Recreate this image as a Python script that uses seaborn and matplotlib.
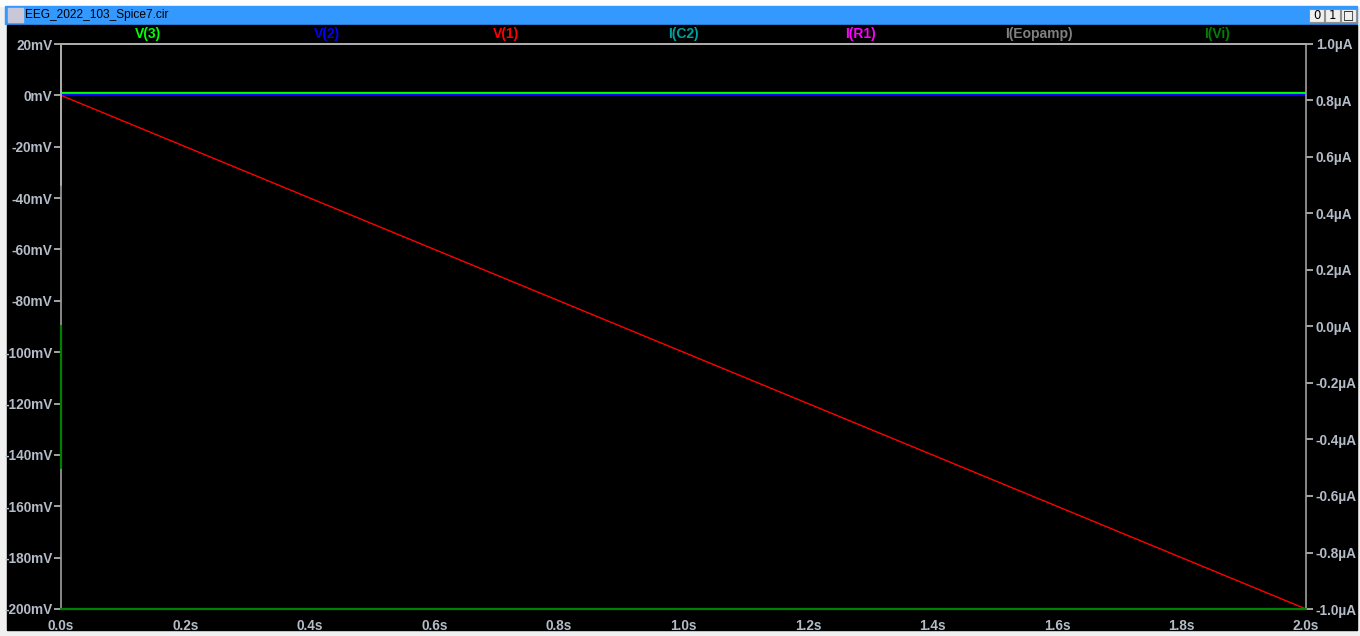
import numpy as np
import pandas as pd
import seaborn as sns
import matplotlib.pyplot as plt
from matplotlib.patches import Rectangle
from matplotlib.ticker import FuncFormatter, MultipleLocator

# 仿真数据
time_s = [0.0, 2.0]
v3_mv = [0.9, 0.9]
v2_mv = [0.0, 0.0]
v1_mv = [0.0, -200.0]
time_vi = [0.0, 0.0, 0.0, 0.0, 2.0]
ivi_ua = [0.0, -0.5, np.nan, -1.0, -1.0]
time_eo = [0.0, 0.0, 2.0]
ieo_ua = [0.5, 1.0, 1.0]

trace_names = ['V(3)', 'V(2)', 'V(1)', 'I(C2)', 'I(R1)', 'I(Eopamp)', 'I(Vi)']
trace_colors = ['#00ff00', '#0000ff', '#ff0000', '#00a0a0', '#ff00ff', '#808080', '#008000']
title = 'EEG_2022_103_Spice7.cir'

W, H = 1360, 636
sns.set_style("dark")
plt.rcParams['font.family'] = ['Liberation Sans', 'DejaVu Sans']
fig = plt.figure(figsize=(W / 100, H / 100), dpi=100)

# 窗口背景
bg = fig.add_axes([0, 0, 1, 1])
bg.set_xlim(0, W)
bg.set_ylim(H, 0)
bg.axis('off')
bg.add_patch(Rectangle((0, 0), W, H, color='#f0f0f0'))
bg.add_patch(Rectangle((0, 0), W, 6, color='white'))
bg.add_patch(Rectangle((5, 6), W - 8, 18, color='#3399ff'))
bg.add_patch(Rectangle((7, 25), 1350, 605, color='black'))
bg.add_patch(Rectangle((8, 8), 15, 14, color='#c8c8d8'))
bg.text(25, 15, title, fontsize=8.6, color='black', va='center', ha='left')
for bx, lab in [(1309, '0'), (1325, '1'), (1341, '\u25a1')]:
    bg.add_patch(Rectangle((bx, 9), 15, 13, facecolor='#f0f0f0', edgecolor='#909090', lw=0.8))
    bg.text(bx + 7.5, 15.5, lab, fontsize=8.5, color='black', ha='center', va='center',
            family=['DejaVu Sans'])

left, right, top, bottom = 61, 1306, 44, 609
ax = fig.add_axes([left / W, (H - bottom) / H, (right - left) / W, (bottom - top) / H])
ax.set_facecolor('black')
ax2 = ax.twinx()

df_v = pd.DataFrame({'t': time_s, 'V(3)': v3_mv, 'V(2)': v2_mv, 'V(1)': v1_mv})
sns.lineplot(data=df_v, x='t', y='V(3)', ax=ax, color=trace_colors[0], lw=1.6, zorder=3)
sns.lineplot(data=df_v, x='t', y='V(2)', ax=ax, color=trace_colors[1], lw=1.6, zorder=3)
sns.lineplot(data=df_v, x='t', y='V(1)', ax=ax, color=trace_colors[2], lw=1.0, zorder=3)

ax2.plot(time_eo, ieo_ua, color='#b0b0b0', lw=1.3, zorder=3, clip_on=False)
ax2.plot(time_vi, ivi_ua, color=trace_colors[6], lw=1.6, zorder=3, clip_on=False)

ax.set_xlim(0, 2.0)
ax.set_ylim(-200, 20)
ax2.set_ylim(-1.0, 1.0)
ax.xaxis.set_major_locator(MultipleLocator(0.2))
ax.yaxis.set_major_locator(MultipleLocator(20))
ax2.yaxis.set_major_locator(MultipleLocator(0.2))
ax.xaxis.set_major_formatter(FuncFormatter(lambda v, p: f'{v:.1f}s'))
ax.yaxis.set_major_formatter(FuncFormatter(lambda v, p: f'{v:.0f}mV'))
ax2.yaxis.set_major_formatter(FuncFormatter(lambda v, p: f'{v:.1f}\u00b5A'))
ax.set_xlabel('')
ax.set_ylabel('')
ax2.set_ylabel('')
ax.grid(False)
ax2.grid(False)

tick_col = '#b4bcc8'
for s in ax.spines.values():
    s.set_visible(False)
for s in ax2.spines.values():
    s.set_color('#a0a0a0')
    s.set_linewidth(1.2)
for a in (ax, ax2):
    a.tick_params(colors='#c0c0c0', labelcolor=tick_col, length=5, width=1.2,
                  labelsize=9.8, pad=1, direction='out')
    for lab in a.get_xticklabels() + a.get_yticklabels():
        lab.set_fontweight('bold')
ax.tick_params(axis='x', pad=2)
ax2.tick_params(axis='y', pad=2)

# 顶部图例文字
label_x = [148, 327, 506, 683, 861, 1039, 1217]
for name, col, x in zip(trace_names, trace_colors, label_x):
    bg.text(x, 34, name, color=col, fontsize=10, fontweight='bold', ha='center', va='center')

fig.savefig('out.png', dpi=100, facecolor='white')
